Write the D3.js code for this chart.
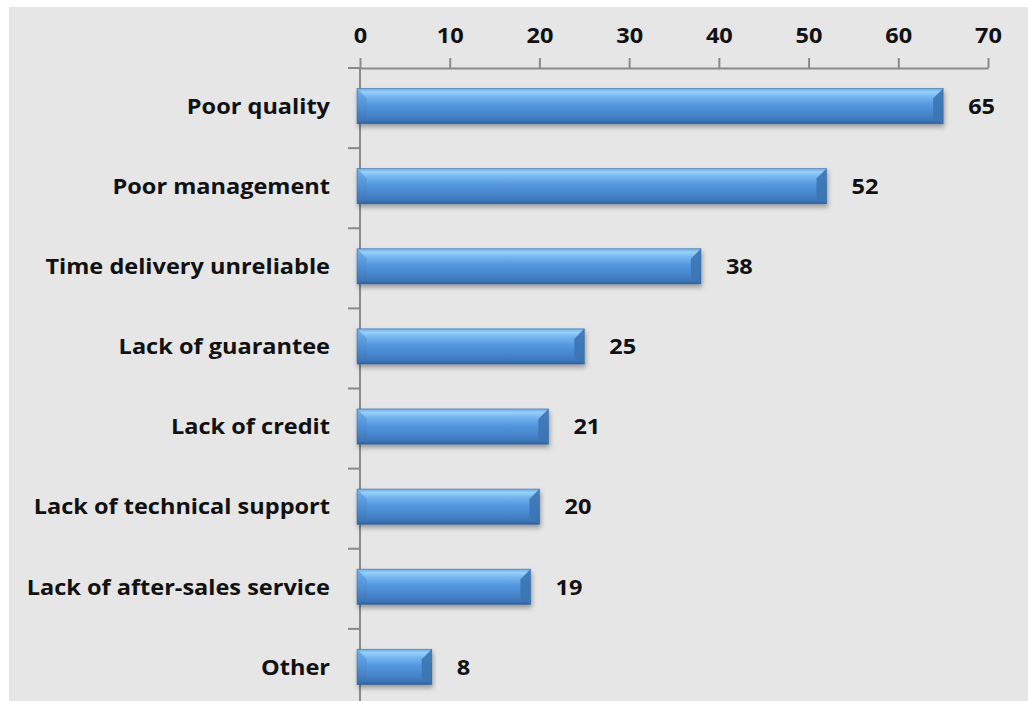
<!DOCTYPE html>
<html>
<head>
<meta charset="utf-8">
<script src="https://cdn.jsdelivr.net/npm/d3@7"></script>
<style>
  html, body { margin: 0; padding: 0; background: #ffffff; }
  svg { display: block; }
</style>
</head>
<body>
<svg id="chart" width="1028" height="701"></svg>
<script>
// Reasons cited, number of respondents
const categories = [
  "Poor quality",
  "Poor management",
  "Time delivery unreliable",
  "Lack of guarantee",
  "Lack of credit",
  "Lack of technical support",
  "Lack of after-sales service",
  "Other"
];
const values = [65, 52, 38, 25, 21, 20, 19, 8];
const tickValues = [0, 10, 20, 30, 40, 50, 60, 70];

const W = 1028, H = 701;
const FONT = "'Open Sans', Lato, 'DejaVu Sans', sans-serif";
const FS = 22;
const SX = 1.07; // slight horizontal widening of the label lettering
const svg = d3.select("#chart");

// Panel background
svg.append("rect")
  .attr("x", 9).attr("y", 7)
  .attr("width", W - 9).attr("height", H - 7)
  .attr("fill", "#e6e6e6");

const x = d3.scaleLinear().domain([0, 70]).range([360, 988]);
const y = d3.scaleBand().domain(categories).range([66, 707]).paddingInner(0.56).paddingOuter(0.28);
const bandStep = y.step();
const axisTop = 68;

const defs = svg.append("defs");
const grad = defs.append("linearGradient")
  .attr("id", "barGrad").attr("x1", 0).attr("y1", 0).attr("x2", 0).attr("y2", 1);
[
  [0.00, "#6aacea"],
  [0.10, "#98d0fb"],
  [0.22, "#78b8f0"],
  [0.45, "#5598e0"],
  [0.75, "#4684ca"],
  [0.92, "#3c74b6"],
  [1.00, "#2d5e98"]
].forEach(([o, c]) => grad.append("stop").attr("offset", o).attr("stop-color", c));

const capGrad = defs.append("linearGradient")
  .attr("id", "capGrad").attr("x1", 0).attr("y1", 0).attr("x2", 0).attr("y2", 1);
[
  [0.0, "#6aa9e6"],
  [0.5, "#4f90d6"],
  [1.0, "#3a70ad"]
].forEach(([o, c]) => capGrad.append("stop").attr("offset", o).attr("stop-color", c));

const shadow = defs.append("filter").attr("id", "shadow")
  .attr("x", "-5%").attr("y", "-20%").attr("width", "110%").attr("height", "160%");
shadow.append("feDropShadow")
  .attr("dx", 1).attr("dy", 3).attr("stdDeviation", 2.5)
  .attr("flood-color", "#000").attr("flood-opacity", 0.35);

// Top value axis
const gx = svg.append("g").attr("transform", `translate(0,${axisTop})`)
  .call(d3.axisTop(x).tickValues(tickValues).tickSize(10).tickPadding(15).tickSizeOuter(0));
gx.select(".domain").attr("stroke", "#8a8a8a").attr("stroke-width", 2);
gx.selectAll(".tick line").attr("stroke", "#8a8a8a").attr("stroke-width", 2);
gx.selectAll(".tick text")
  .attr("font-family", FONT).attr("font-weight", "bold")
  .attr("font-size", FS).attr("fill", "#111")
  .attr("transform", `scale(${SX},1)`);

// Left category axis line and band-boundary ticks
svg.append("line")
  .attr("x1", x(0)).attr("x2", x(0))
  .attr("y1", axisTop).attr("y2", H)
  .attr("stroke", "#8a8a8a").attr("stroke-width", 2);
const bounds = d3.range(categories.length).map(i => axisTop + i * bandStep);
svg.selectAll(".ctick").data(bounds).join("line")
  .attr("class", "ctick")
  .attr("x1", x(0) - 12).attr("x2", x(0))
  .attr("y1", d => d).attr("y2", d => d)
  .attr("stroke", "#8a8a8a").attr("stroke-width", 2);

// Bars
const bars = svg.append("g").selectAll("g").data(categories).join("g")
  .attr("filter", "url(#shadow)");
bars.append("rect")
  .attr("x", x(0) - 3)
  .attr("y", d => y(d))
  .attr("width", (d, i) => x(values[i]) - x(0) + 3)
  .attr("height", y.bandwidth())
  .attr("fill", "url(#barGrad)");
// End bevels
const bev = 10;
bars.append("polygon")
  .attr("points", (d, i) => {
    const x0 = x(0) - 3, y0 = y(d), y1 = y(d) + y.bandwidth();
    return [[x0, y0], [x0 + bev, y0 + bev], [x0 + bev, y1 - bev * 0.6], [x0, y1]].join(" ");
  })
  .attr("fill", "url(#capGrad)").attr("opacity", 0.85);
bars.append("polygon")
  .attr("points", (d, i) => {
    const x1 = x(values[i]), y0 = y(d), y1 = y(d) + y.bandwidth();
    return [[x1, y0], [x1 - bev, y0 + bev], [x1 - bev, y1 - bev * 0.6], [x1, y1]].join(" ");
  })
  .attr("fill", "#3b74b3").attr("opacity", 0.9);
bars.append("rect")
  .attr("x", x(0) - 3)
  .attr("y", d => y(d))
  .attr("width", (d, i) => x(values[i]) - x(0) + 3)
  .attr("height", y.bandwidth())
  .attr("fill", "none").attr("stroke", "#2e5f97").attr("stroke-width", 0.8).attr("stroke-opacity", 0.6);

// Category labels
svg.append("g").selectAll("text").data(categories).join("text")
  .attr("transform", d => `translate(330,${y(d) + y.bandwidth() / 2}) scale(${SX},1)`)
  .attr("dy", "0.35em")
  .attr("text-anchor", "end")
  .attr("font-family", FONT).attr("font-weight", "bold")
  .attr("font-size", FS).attr("fill", "#111")
  .text(d => d);

// Value labels
svg.append("g").selectAll("text").data(values).join("text")
  .attr("transform", (v, i) => `translate(${x(v) + 25},${y(categories[i]) + y.bandwidth() / 2}) scale(${SX},1)`)
  .attr("dy", "0.35em")
  .attr("font-family", FONT).attr("font-weight", "bold")
  .attr("font-size", FS).attr("fill", "#111")
  .text(v => v);
</script>
</body>
</html>
